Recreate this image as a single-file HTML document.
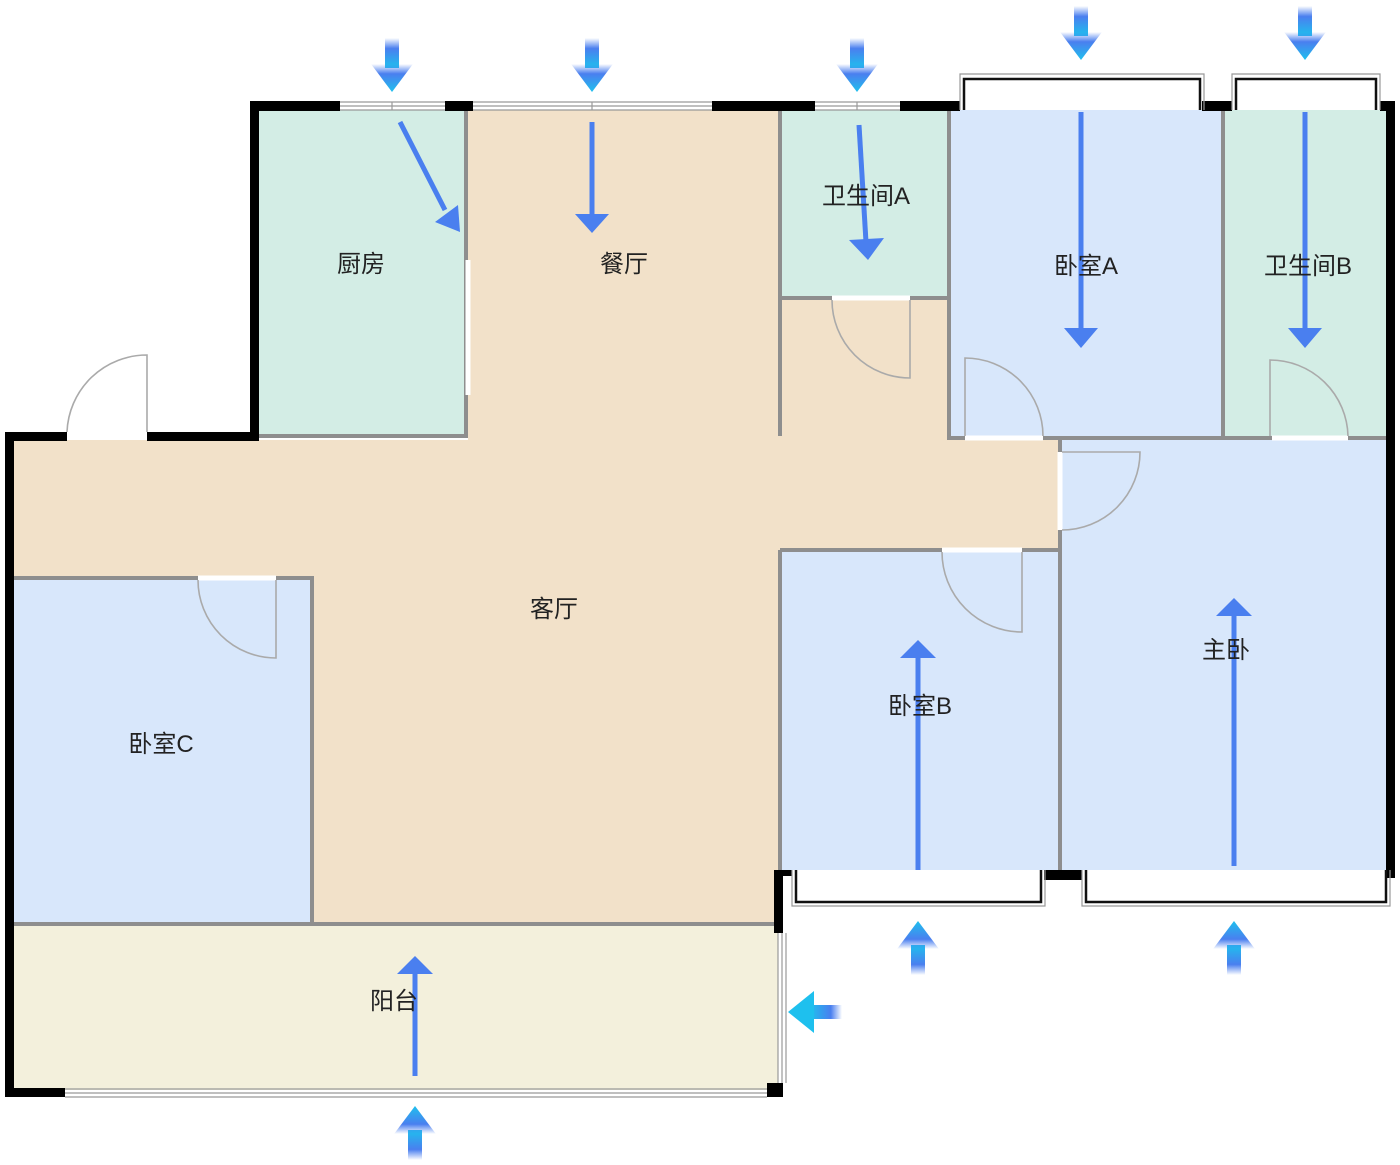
<!DOCTYPE html>
<html><head><meta charset="utf-8"><style>
html,body{margin:0;padding:0;background:#fff;width:1400px;height:1165px;overflow:hidden}
text{font-family:"Liberation Sans","Noto Sans CJK SC",sans-serif;font-size:24px;fill:#222;text-anchor:middle}
</style></head><body>
<svg width="1400" height="1165" viewBox="0 0 1400 1165" xmlns="http://www.w3.org/2000/svg">
<defs>
<linearGradient id="gd" x1="0" y1="0" x2="0" y2="1"><stop offset="0" stop-color="#4a7fef" stop-opacity="0"/><stop offset="0.35" stop-color="#4a7fef"/><stop offset="1" stop-color="#1ec0ee"/></linearGradient>
<linearGradient id="gu" x1="0" y1="1" x2="0" y2="0"><stop offset="0" stop-color="#4a7fef" stop-opacity="0"/><stop offset="0.35" stop-color="#4a7fef"/><stop offset="1" stop-color="#1ec0ee"/></linearGradient>
<linearGradient id="gl" x1="1" y1="0" x2="0" y2="0"><stop offset="0" stop-color="#4a7fef" stop-opacity="0"/><stop offset="0.35" stop-color="#4a7fef"/><stop offset="1" stop-color="#1ec0ee"/></linearGradient>
<g id="ad"><rect x="-7" y="0" width="14" height="30" fill="url(#gd)"/><polygon points="-21,26 21,26 0,54" fill="url(#gd)"/></g>
</defs>
<!-- fills -->
<path d="M12 440 H468 V110 H780 V300 H1060 V550 H780 V925 H12 Z" fill="#f2e1c9"/>
<rect x="258" y="110" width="208" height="326" fill="#d3ede5"/>
<rect x="782" y="110" width="166" height="188" fill="#d3ede5"/>
<rect x="950" y="110" width="272" height="328" fill="#d8e7fb"/>
<rect x="1224" y="110" width="162" height="328" fill="#d3ede5"/>
<rect x="1062" y="440" width="324" height="430" fill="#d8e7fb"/>
<rect x="780" y="552" width="278" height="318" fill="#d8e7fb"/>
<rect x="12" y="578" width="300" height="344" fill="#d8e7fb"/>
<rect x="12" y="925" width="766" height="165" fill="#f3f0dc"/>
<!-- interior walls -->
<g stroke="#8e8e8e" stroke-width="4" fill="none">
<path d="M12 578 H312 V922"/><path d="M12 924 H778"/>
<path d="M466 110 V436 H258"/>
<path d="M780 110 V436"/><path d="M782 298 H948"/>
<path d="M949 110 V438 H1386"/><path d="M1223 110 V438"/>
<path d="M1060 440 V870"/><path d="M780 550 H1060"/><path d="M780 550 V870"/>
</g>
<!-- doors gaps -->
<g stroke="#fff" stroke-width="5"><path d="M198 578 H276"/><path d="M832 298 H910"/><path d="M965 438 H1043"/><path d="M1272 438 H1348"/><path d="M1060 452 V530"/><path d="M942 550 H1022"/><path d="M468 260 V395"/></g>
<g stroke="#aaa" stroke-width="1.6" fill="none">
<path d="M276 580 V658 A78 78 0 0 1 198 580"/>
<path d="M910 300 V378 A78 78 0 0 1 832 300"/>
<path d="M965 436 V358 A78 78 0 0 1 1043 436"/>
<path d="M1270 436 V360 A78 78 0 0 1 1348 436"/>
<path d="M1062 452 H1140 A78 78 0 0 1 1062 530"/>
<path d="M1022 552 V632 A80 80 0 0 1 942 552"/>
<path d="M147 432 V355 A80 80 0 0 0 67 432"/>
</g>
<!-- exterior walls -->
<g fill="#000">
<rect x="250" y="101" width="90" height="10"/><rect x="250" y="101" width="9" height="338"/>
<rect x="445" y="101" width="28" height="10"/><rect x="712" y="101" width="103" height="10"/>
<rect x="900" y="101" width="60" height="10"/><rect x="1202" y="101" width="30" height="10"/>
<rect x="1380" y="101" width="15" height="10"/><rect x="1386" y="101" width="9" height="777"/>
<rect x="5" y="432" width="62" height="9"/><rect x="147" y="432" width="112" height="9"/>
<rect x="5" y="432" width="9" height="665"/><rect x="5" y="1088" width="60" height="9"/>
<rect x="767" y="1083" width="16" height="14"/><rect x="774" y="870" width="9" height="63"/>
<rect x="774" y="870" width="18" height="6"/>
<rect x="1044" y="870" width="38" height="10"/>
</g>
<!-- windows -->
<g stroke="#999" stroke-width="1.2" fill="none">
<path d="M340 102 H445 M340 106 H445 M340 110 H445 M392 102 V110"/>
<path d="M473 102 H712 M473 106 H712 M473 110 H712 M592 102 V110"/>
<path d="M815 102 H900 M815 106 H900 M815 110 H900 M857 102 V110"/>
<path d="M65 1089 H767 M65 1093 H767 M65 1097 H767"/>
<path d="M778 933 V1083 M782 933 V1083 M786 933 V1083"/>
<path d="M960 110 V74 H1204 V110 M1232 110 V74 H1380 V110"/>
<path d="M792 870 V906 H1045 V870 M1082 870 V906 H1390 V870"/>
</g>
<g stroke="#111" stroke-width="2.5" fill="none">
<path d="M964 110 V79 H1200 V110 M1236 110 V79 H1376 V110"/>
<path d="M796 870 V902 H1041 V870 M1086 870 V902 H1386 V870"/>
</g>
<!-- inner arrows -->
<g stroke="#4a7fef" stroke-width="5" fill="#4a7fef">
<line x1="400" y1="122" x2="445" y2="210"/><polygon stroke="none" points="458,205 460,232 435,222" />
<line x1="592" y1="122" x2="592" y2="215"/><polygon stroke="none" points="575,214 609,214 592,233"/>
<line x1="859" y1="125" x2="866" y2="242"/><polygon stroke="none" points="849,240 884,238 868,260"/>
<line x1="1081" y1="112" x2="1081" y2="330"/><polygon stroke="none" points="1064,328 1098,328 1081,348"/>
<line x1="1305" y1="112" x2="1305" y2="330"/><polygon stroke="none" points="1288,328 1322,328 1305,348"/>
<line x1="918" y1="870" x2="918" y2="658"/><polygon stroke="none" points="900,658 936,658 918,640"/>
<line x1="1234" y1="866" x2="1234" y2="616"/><polygon stroke="none" points="1216,616 1252,616 1234,598"/>
<line x1="415" y1="1076" x2="415" y2="974"/><polygon stroke="none" points="397,974 433,974 415,956"/>
</g>
<!-- outer arrows -->
<use href="#ad" x="392" y="38"/><use href="#ad" x="592" y="38"/><use href="#ad" x="857" y="38"/>
<use href="#ad" x="1081" y="6"/><use href="#ad" x="1305" y="6"/>
<use href="#ad" transform="translate(918 975) scale(1 -1)"/>
<use href="#ad" transform="translate(1234 975) scale(1 -1)"/>
<use href="#ad" transform="translate(415 1160) scale(1 -1)"/>
<g><rect x="810" y="1005" width="32" height="14" fill="url(#gl)"/><polygon points="788,1012 814,991 814,1033" fill="#1ec0ee"/></g>
<!-- labels -->
<text x="361" y="272">厨房</text>
<text x="624" y="272">餐厅</text>
<text x="866" y="204">卫生间A</text>
<text x="1086" y="274">卧室A</text>
<text x="1308" y="274">卫生间B</text>
<text x="554" y="617">客厅</text>
<text x="1226" y="658">主卧</text>
<text x="920" y="714">卧室B</text>
<text x="161" y="752">卧室C</text>
<text x="394" y="1009">阳台</text>
</svg>
</body></html>
